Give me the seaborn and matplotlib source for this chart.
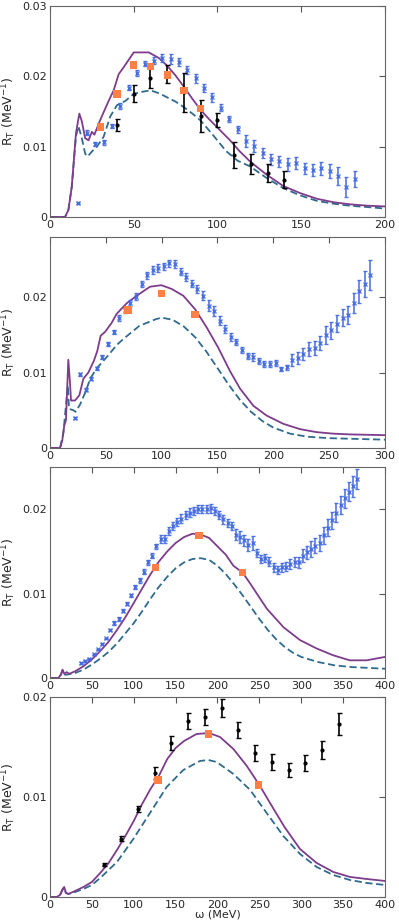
import matplotlib
matplotlib.use('Agg')
import matplotlib.pyplot as plt
import seaborn as sns
from matplotlib.ticker import FuncFormatter, MultipleLocator

sns.set_style('white')
plt.rcParams['font.family'] = ['DejaVu Sans']
plt.rcParams['mathtext.default'] = 'regular'

PURPLE = '#7d3c8c'
TEAL = '#2f6b8f'
BLUE = '#4169e1'
ORANGE = '#ff7f45'

# ---------------- panel 1 ----------------
p1_solid_x = [0, 9, 11, 13, 15.5, 17.5, 19, 21, 23, 25, 26.5, 30, 35, 38, 41, 44, 50, 59,
              65, 70, 75, 80, 85, 90, 95, 100, 107.5, 113, 119.4, 129.4, 139.3, 149.3,
              159.2, 169.2, 179.1, 190, 200]
p1_solid_y = [0, 0, 0.0010, 0.0043, 0.0119, 0.0147, 0.0136, 0.0112, 0.0109, 0.0121, 0.0117,
              0.0138, 0.0165, 0.0180, 0.0203, 0.0213, 0.0234, 0.0234, 0.0226, 0.0215, 0.0201,
              0.0185, 0.0168, 0.0152, 0.0139, 0.0127, 0.0109, 0.0094, 0.0079, 0.0060, 0.0044,
              0.0034, 0.0026, 0.0021, 0.0018, 0.0016, 0.0015]
p1_dash_x = [0, 9, 11, 13, 15.5, 17, 19, 21, 22.5, 25, 28, 32, 36, 40, 45, 50, 55, 60, 65, 70,
             75, 80, 85, 90, 97.5, 105, 112, 119.4, 129, 139.3, 149, 159.2, 169, 179, 190, 200]
p1_dash_y = [0, 0, 0.0010, 0.0043, 0.0115, 0.0129, 0.0112, 0.0090, 0.0086, 0.0093, 0.0100,
             0.0114, 0.0143, 0.0159, 0.0165, 0.0175, 0.0178, 0.0180, 0.0176, 0.0170, 0.0164,
             0.0156, 0.0147, 0.0137, 0.0116, 0.0094, 0.0080, 0.0072, 0.0056, 0.0041, 0.0031,
             0.0023, 0.0019, 0.0016, 0.0014, 0.0012]
p1_blue_x = [17, 22, 27, 32, 37, 42, 47, 52, 57, 62, 67, 72, 77, 82, 87, 92, 97, 102, 107, 112,
             117, 122, 127, 132, 137, 142, 147, 152, 157, 162, 167, 172, 177, 182]
p1_blue_y = [0.0020, 0.0120, 0.0104, 0.0106, 0.0129, 0.0158, 0.0184, 0.0205, 0.0218, 0.0222,
             0.0226, 0.0225, 0.0220, 0.0209, 0.0197, 0.0183, 0.0170, 0.0155, 0.0139, 0.0125,
             0.0108, 0.0101, 0.0091, 0.0082, 0.0079, 0.0075, 0.0077, 0.0069, 0.0067, 0.0069,
             0.0066, 0.0058, 0.0043, 0.0054]
p1_blue_err = [0.0001, 0.0004, 0.0003, 0.0003, 0.0003, 0.0004, 0.0004, 0.0004, 0.0004, 0.0005,
               0.0006, 0.0007, 0.0006, 0.0006, 0.0006, 0.0006, 0.0006, 0.0005, 0.0004, 0.0005,
               0.0009, 0.0008, 0.0007, 0.0008, 0.0008, 0.0009, 0.0009, 0.0008, 0.0009, 0.0009,
               0.0010, 0.0013, 0.0014, 0.0012]
p1_black_x = [40, 50, 60, 70, 80, 90, 100, 110, 120, 130, 140]
p1_black_y = [0.0131, 0.0175, 0.0198, 0.0203, 0.0177, 0.0144, 0.0138, 0.0088, 0.0075, 0.0063, 0.0053]
p1_black_err = [0.0009, 0.0012, 0.0014, 0.0013, 0.0028, 0.0023, 0.0010, 0.0018, 0.0014, 0.0013, 0.0012]
p1_orange_x = [30, 40, 50, 60, 70, 80, 90]
p1_orange_y = [0.0128, 0.0175, 0.0216, 0.0214, 0.0202, 0.0180, 0.0154]

# ---------------- panel 2 ----------------
p2_solid_x = [0, 9, 11, 12.8, 14.3, 16.4, 17.9, 18.8, 22.4, 26.3, 29.9, 34.3, 39.4, 42.4, 45.4,
              49.3, 55.2, 59.7, 68.7, 77.6, 89.6, 99.7, 109, 119.4, 130, 140.3, 150.7, 161.2,
              170.1, 182.1, 194, 209, 223.9, 238.8, 253.7, 268.7, 300]
p2_solid_y = [0, 0, 0.0010, 0.0030, 0.0037, 0.0117, 0.0087, 0.0063, 0.0063, 0.0070, 0.0092,
              0.0100, 0.0116, 0.0129, 0.0149, 0.0154, 0.0166, 0.0178, 0.0192, 0.0202, 0.0214,
              0.0216, 0.0211, 0.0202, 0.0184, 0.0160, 0.0133, 0.0102, 0.0079, 0.0056, 0.0043,
              0.0032, 0.0025, 0.0021, 0.0019, 0.0018, 0.0017]
p2_dash_x = [0, 9, 12, 14.5, 16, 17, 21, 23, 27, 32, 36, 42, 51, 60, 66, 80, 95, 100, 110, 120,
             130, 140, 150, 160, 170, 180, 190, 200, 215, 230, 250, 275, 300]
p2_dash_y = [0, 0, 0.0020, 0.0060, 0.0083, 0.0052, 0.0050, 0.0048, 0.0058, 0.0075, 0.0092,
             0.0106, 0.0121, 0.0137, 0.0145, 0.0162, 0.0171, 0.0173, 0.0170, 0.0161, 0.0147,
             0.0128, 0.0106, 0.0084, 0.0064, 0.0048, 0.0036, 0.0027, 0.0019, 0.0015, 0.0013,
             0.0012, 0.0011]
p2_blue_x = [22, 27, 32, 37, 42, 47, 52, 57, 62, 67, 72, 77, 82, 87, 92, 97, 102, 107, 112, 117,
             122, 127, 132, 137, 142, 147, 152, 157, 162, 167, 172, 177, 182, 187, 192, 197,
             202, 207, 212, 217, 222, 227, 232, 237, 242, 247, 252, 257, 262, 267, 272, 277,
             282, 287]
p2_blue_y = [0.0040, 0.0098, 0.0077, 0.0092, 0.0106, 0.0121, 0.0138, 0.0154, 0.0172, 0.0183,
             0.0192, 0.0201, 0.0218, 0.0229, 0.0236, 0.0239, 0.0241, 0.0245, 0.0244, 0.0234,
             0.0227, 0.0218, 0.0211, 0.0202, 0.0189, 0.0182, 0.0169, 0.0158, 0.0147, 0.0140,
             0.0130, 0.0122, 0.0121, 0.0115, 0.0111, 0.0111, 0.0113, 0.0105, 0.0107, 0.0117,
             0.0119, 0.0125, 0.0131, 0.0133, 0.0139, 0.0150, 0.0156, 0.0165, 0.0173, 0.0177,
             0.0192, 0.0208, 0.0218, 0.0229]
p2_blue_err = [0.0001, 0.0002, 0.0002, 0.0002, 0.0002, 0.0003, 0.0003, 0.0003, 0.0004, 0.0004,
               0.0004, 0.0004, 0.0004, 0.0005, 0.0005, 0.0005, 0.0005, 0.0005, 0.0005, 0.0005,
               0.0005, 0.0005, 0.0005, 0.0006, 0.0007, 0.0007, 0.0006, 0.0005, 0.0005, 0.0004,
               0.0004, 0.0004, 0.0005, 0.0004, 0.0004, 0.0004, 0.0004, 0.0003, 0.0003, 0.0008,
               0.0008, 0.0008, 0.0009, 0.0009, 0.0009, 0.0012, 0.0011, 0.0011, 0.0011, 0.0012,
               0.0013, 0.0015, 0.0017, 0.0020]
p2_orange_x = [70, 100, 130]
p2_orange_y = [0.0183, 0.0205, 0.0177]

# ---------------- panel 3 ----------------
p3_solid_x = [0, 10, 13, 15, 17, 20, 23, 30, 40, 50, 60, 70, 80, 90, 100, 110, 120, 130, 140,
              150, 160, 170, 180, 190, 199, 210, 219, 230, 239, 259, 279, 298.5, 318.4, 338,
              358, 378, 400]
p3_solid_y = [0, 0, 0.0004, 0.0010, 0.0005, 0.0007, 0.0005, 0.0008, 0.0014, 0.0022, 0.0032,
              0.0043, 0.0057, 0.0072, 0.0089, 0.0106, 0.0123, 0.0138, 0.0150, 0.0160, 0.0167,
              0.0171, 0.0170, 0.0166, 0.0157, 0.0146, 0.0133, 0.0125, 0.0112, 0.0082, 0.0060,
              0.0045, 0.0035, 0.0027, 0.0021, 0.0021, 0.0025]
p3_dash_x = [0, 10, 13, 15, 17, 20, 30, 40, 50, 60, 70, 80, 90, 100, 110, 120, 130, 140, 150,
             160, 170, 180, 190, 200, 210, 220, 230, 240, 250, 260, 270, 280, 290, 300, 320,
             340, 360, 380, 400]
p3_dash_y = [0, 0, 0.0004, 0.0009, 0.0004, 0.0004, 0.0006, 0.0010, 0.0016, 0.0023, 0.0031,
             0.0041, 0.0053, 0.0065, 0.0079, 0.0094, 0.0108, 0.0120, 0.0130, 0.0137, 0.0141,
             0.0142, 0.0140, 0.0133, 0.0123, 0.0111, 0.0098, 0.0084, 0.0070, 0.0057, 0.0046,
             0.0037, 0.0030, 0.0025, 0.0019, 0.0015, 0.0013, 0.0012, 0.0011]
p3_blue_x = [37, 42, 47, 52, 57, 62, 67, 72, 77, 82, 87, 92, 97, 102, 107, 112, 117, 122, 127,
             132, 137, 142, 147, 152, 157, 162, 167, 172, 177, 182, 187, 192, 197, 202, 207,
             212, 217, 222, 227, 232, 237, 242, 247, 252, 257, 262, 267, 272, 277, 282, 287,
             292, 297, 302, 307, 312, 317, 322, 327, 332, 337, 342, 347, 352, 357, 362, 367]
p3_blue_y = [0.0018, 0.0020, 0.0023, 0.0028, 0.0034, 0.0040, 0.0047, 0.0057, 0.0065, 0.0070,
             0.0080, 0.0088, 0.0098, 0.0108, 0.0116, 0.0126, 0.0137, 0.0145, 0.0156, 0.0165,
             0.0165, 0.0174, 0.0180, 0.0185, 0.0189, 0.0193, 0.0196, 0.0198, 0.0200, 0.0200,
             0.0200, 0.0201, 0.0198, 0.0193, 0.0188, 0.0184, 0.0180, 0.0170, 0.0167, 0.0163,
             0.0158, 0.0160, 0.0148, 0.0141, 0.0142, 0.0138, 0.0131, 0.0128, 0.0131, 0.0132,
             0.0135, 0.0137, 0.0137, 0.0145, 0.0149, 0.0153, 0.0157, 0.0160, 0.0169, 0.0178,
             0.0187, 0.0196, 0.0205, 0.0213, 0.0221, 0.0227, 0.0236]
p3_blue_err = [0.0001, 0.0001, 0.0001, 0.0001, 0.0001, 0.0001, 0.0001, 0.0001, 0.0002, 0.0002,
               0.0002, 0.0002, 0.0002, 0.0002, 0.0003, 0.0003, 0.0003, 0.0003, 0.0003, 0.0005,
               0.0005, 0.0005, 0.0005, 0.0005, 0.0005, 0.0005, 0.0005, 0.0005, 0.0005, 0.0005,
               0.0005, 0.0005, 0.0005, 0.0005, 0.0005, 0.0005, 0.0005, 0.0007, 0.0007, 0.0007,
               0.0007, 0.0008, 0.0005, 0.0005, 0.0005, 0.0005, 0.0005, 0.0005, 0.0005, 0.0005,
               0.0006, 0.0006, 0.0007, 0.0008, 0.0008, 0.0009, 0.0009, 0.0009, 0.0010, 0.0010,
               0.0010, 0.0011, 0.0011, 0.0011, 0.0011, 0.0012, 0.0012]
p3_orange_x = [126, 178, 230]
p3_orange_y = [0.0131, 0.0169, 0.0125]

# ---------------- panel 4 ----------------
p4_solid_x = [0, 8, 12, 15, 17, 19, 22, 30, 40, 50, 60, 70, 80, 90, 100, 110, 120, 130, 140,
              150, 160, 175, 190, 203, 219, 235, 250, 267, 280, 298.5, 318.4, 338.3, 358.2,
              378, 400]
p4_solid_y = [0, 0, 0.0002, 0.0008, 0.0010, 0.0004, 0.0003, 0.0006, 0.0010, 0.0015, 0.0024,
              0.0034, 0.0047, 0.0061, 0.0076, 0.0093, 0.0108, 0.0121, 0.0138, 0.0149, 0.0156,
              0.0163, 0.0164, 0.0160, 0.0148, 0.0131, 0.0112, 0.0088, 0.0070, 0.0048, 0.0034,
              0.0025, 0.0020, 0.0018, 0.0016]
p4_dash_x = [0, 8, 12, 15, 17, 19, 22, 30, 40, 50, 60, 80, 99.5, 119.4, 139.3, 159.2, 179, 189,
             199, 219, 239, 258.7, 278.6, 298.5, 318.4, 338, 358, 378, 400]
p4_dash_y = [0, 0, 0.0002, 0.0007, 0.0009, 0.0004, 0.0003, 0.0005, 0.0008, 0.0012, 0.0019,
             0.0035, 0.0058, 0.0084, 0.0110, 0.0127, 0.0136, 0.0137, 0.0135, 0.0123, 0.0107,
             0.0084, 0.0061, 0.0043, 0.0030, 0.0022, 0.0017, 0.0014, 0.0012]
p4_black_x = [65, 85, 105, 125, 145, 165, 185, 205, 225, 245, 265, 285, 305, 325, 345]
p4_black_y = [0.0032, 0.0058, 0.0088, 0.0124, 0.0154, 0.0176, 0.0180, 0.0189, 0.0167, 0.0144,
              0.0135, 0.0127, 0.0134, 0.0147, 0.0173]
p4_black_err = [0.00015, 0.00025, 0.0003, 0.0006, 0.0007, 0.0008, 0.0008, 0.0009, 0.0008,
                0.0008, 0.0008, 0.0007, 0.0008, 0.0009, 0.0011]
p4_orange_x = [129, 189, 249]
p4_orange_y = [0.0117, 0.0163, 0.0112]

panels = [
    dict(solid=(p1_solid_x, p1_solid_y), dash=(p1_dash_x, p1_dash_y),
         blue=(p1_blue_x, p1_blue_y, p1_blue_err), black=(p1_black_x, p1_black_y, p1_black_err),
         orange=(p1_orange_x, p1_orange_y), xmax=200, ymax=0.03, bottom=0.7644, height=0.2291),
    dict(solid=(p2_solid_x, p2_solid_y), dash=(p2_dash_x, p2_dash_y),
         blue=(p2_blue_x, p2_blue_y, p2_blue_err), black=None,
         orange=(p2_orange_x, p2_orange_y), xmax=300, ymax=0.028, bottom=0.5136, height=0.2291),
    dict(solid=(p3_solid_x, p3_solid_y), dash=(p3_dash_x, p3_dash_y),
         blue=(p3_blue_x, p3_blue_y, p3_blue_err), black=None,
         orange=(p3_orange_x, p3_orange_y), xmax=400, ymax=0.025, bottom=0.2638, height=0.2291),
    dict(solid=(p4_solid_x, p4_solid_y), dash=(p4_dash_x, p4_dash_y),
         blue=None, black=(p4_black_x, p4_black_y, p4_black_err),
         orange=(p4_orange_x, p4_orange_y), xmax=400, ymax=0.02, bottom=0.0261, height=0.2171),
]

fig = plt.figure(figsize=(3.99, 9.21), dpi=100)

yfmt = FuncFormatter(lambda v, pos: '0' if abs(v) < 1e-9 else '%.2f' % v)

for i, p in enumerate(panels):
    ax = fig.add_axes([0.1253, p['bottom'], 0.8396, p['height']])

    sns.lineplot(x=p['dash'][0], y=p['dash'][1], ax=ax, color=TEAL, lw=1.3,
                 linestyle=(0, (4, 2)), sort=False, estimator=None)
    sns.lineplot(x=p['solid'][0], y=p['solid'][1], ax=ax, color=PURPLE, lw=1.3,
                 sort=False, estimator=None)

    if p['blue'] is not None:
        bx, by, be = p['blue']
        ax.errorbar(bx, by, yerr=be, fmt='x', ms=2.5, mew=1, color=BLUE, ecolor=BLUE,
                    elinewidth=1.2, capsize=1.6, capthick=1, alpha=0.9, zorder=3)
    if p['black'] is not None:
        kx, ky, ke = p['black']
        ax.errorbar(kx, ky, yerr=ke, fmt='o', ms=2, color='black', ecolor='black',
                    elinewidth=1.2, capsize=1.8, capthick=1, zorder=4)
    ox, oy = p['orange']
    sns.scatterplot(x=ox, y=oy, ax=ax, marker='s', s=28, color=ORANGE, edgecolor='none',
                    zorder=5)

    ax.set_xlim(0, p['xmax'])
    ax.set_ylim(0, p['ymax'])
    ax.xaxis.set_major_locator(MultipleLocator(50))
    ax.yaxis.set_major_locator(MultipleLocator(0.01))
    ax.yaxis.set_major_formatter(yfmt)
    ax.tick_params(direction='in', top=True, right=True, length=4, width=0.8,
                   color='#555555', labelsize=8, pad=2)
    for s in ax.spines.values():
        s.set_color('#666666')
        s.set_linewidth(0.8)
    ax.set_ylabel(r'R$_\mathrm{T}$ (MeV$^{-1}$)', fontsize=9)
    ax.yaxis.set_label_coords(-0.095, 0.5)
    ax.set_xlabel('')
    if i == 3:
        ax.set_xlabel('ω (MeV)', fontsize=8)
        ax.xaxis.set_label_coords(0.5, -0.062)

fig.savefig('out.png', dpi=100)
